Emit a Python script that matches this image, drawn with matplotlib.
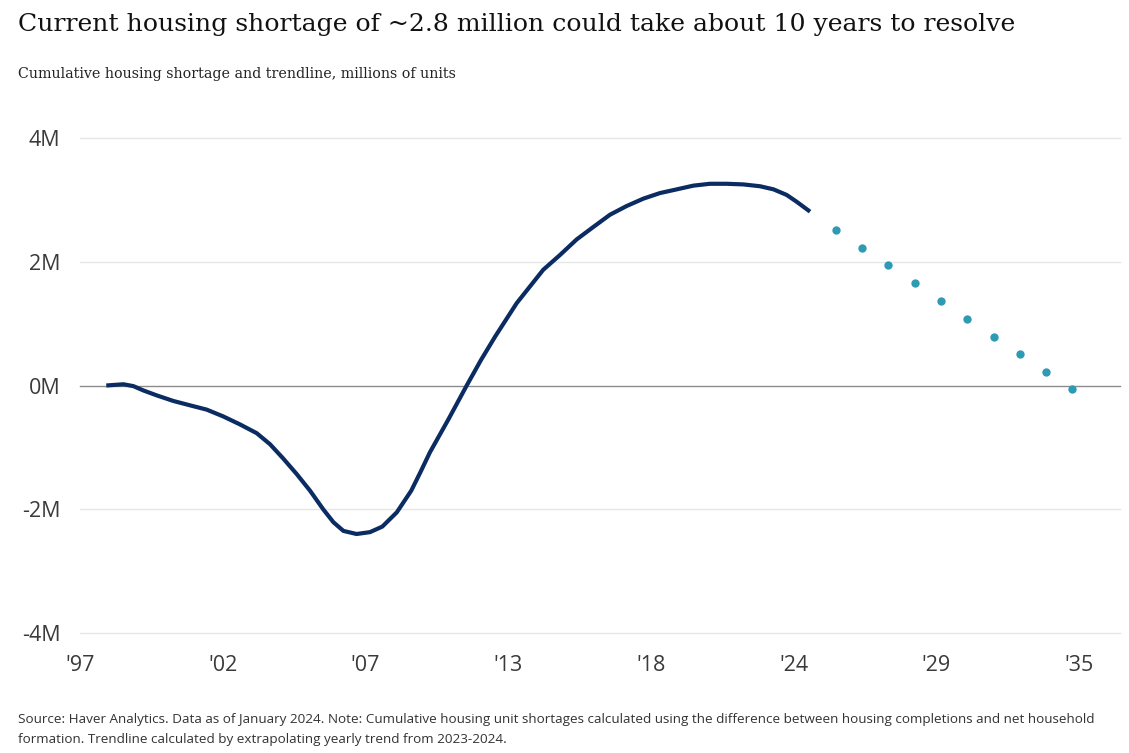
import matplotlib
matplotlib.use("Agg")
import matplotlib.pyplot as plt
import numpy as np

# cumulative shortage, millions of units
years = [1998.0, 1998.65, 1999.03, 1999.41, 1999.92, 2000.55, 2001.18, 2001.82,
         2002.45, 2003.09, 2003.72, 2004.23, 2004.73, 2005.24, 2005.75, 2006.25,
         2006.64, 2007.02, 2007.52, 2008.03, 2008.5, 2009.05, 2009.6, 2009.95,
         2010.31, 2011.01, 2011.71, 2012.25, 2012.79, 2013.61, 2014.62, 2015.26,
         2015.89, 2016.52, 2017.16, 2017.79, 2018.43, 2019.06, 2019.7, 2020.33,
         2020.96, 2021.6, 2022.23, 2022.87, 2023.38, 2023.88, 2024.26, 2024.77]
shortage = [0.00, 0.02, -0.01, -0.08, -0.16, -0.25, -0.32, -0.39,
            -0.50, -0.63, -0.77, -0.95, -1.18, -1.43, -1.70, -2.00,
            -2.21, -2.35, -2.40, -2.37, -2.28, -2.05, -1.70, -1.40,
            -1.08, -0.55, 0.00, 0.41, 0.79, 1.33, 1.87, 2.11,
            2.36, 2.56, 2.76, 2.90, 3.02, 3.11, 3.17, 3.23,
            3.26, 3.26, 3.25, 3.22, 3.17, 3.08, 2.97, 2.81]

trend_years = [2025.75, 2026.75, 2027.75, 2028.75, 2029.75,
               2030.75, 2031.75, 2032.75, 2033.75, 2034.75]
trend = [2.51, 2.22, 1.94, 1.65, 1.37, 1.08, 0.79, 0.51, 0.22, -0.06]

ytick_vals = [-4, -2, 0, 2, 4]
ytick_labels = ['-4M', '-2M', '0M', '2M', '4M']
xtick_labels = ["'97", "'02", "'07", "'13", "'18", "'24", "'29", "'35"]

W, H = 1129, 753
fig = plt.figure(figsize=(W/100, H/100), dpi=100)
ax = fig.add_axes([80/W, 1-633/H, (1120-80)/W, (633-138)/H])

ax.plot(years, shortage, color='#0b2c62', lw=3.0, solid_capstyle='butt',
        solid_joinstyle='round', zorder=3)
ax.plot(trend_years, trend, 'o', color='#2e9bb5', ms=6, mew=0, zorder=3)

ax.set_xlim(1997, 2036.56)
ax.set_ylim(-4, 4)

ax.set_yticks(ytick_vals)
ax.set_yticklabels(ytick_labels)
xt = np.linspace(1997, 2035, len(xtick_labels))
ax.set_xticks(xt)
ax.set_xticklabels(xtick_labels)

for v in ytick_vals:
    if v == 0:
        ax.axhline(v, color='#8c8c8c', lw=1.0, zorder=2, clip_on=False)
    else:
        ax.axhline(v, color='#e6e6e6', lw=1.0, zorder=1, clip_on=False)

for s in ax.spines.values():
    s.set_visible(False)
ax.tick_params(length=0, labelsize=15.5, colors='#3a3a3a', pad=0)
ax.tick_params(axis='y', pad=14)
ax.tick_params(axis='x', pad=16)
for lab in ax.get_yticklabels() + ax.get_xticklabels():
    lab.set_family('Open Sans')

fig.text(18/W, 1-25/H, 'Current housing shortage of ~2.8 million could take about 10 years to resolve',
         family='DejaVu Serif', fontsize=18.1, color='#111111', va='center', ha='left')
fig.text(18/W, 1-74/H, 'Cumulative housing shortage and trendline, millions of units',
         family='DejaVu Serif', fontsize=10.25, color='#222222', va='center', ha='left')
fig.text(18/W, 1-719/H,
         'Source: Haver Analytics. Data as of January 2024. Note: Cumulative housing unit shortages calculated using the difference between housing completions and net household',
         family='Open Sans', fontsize=9.7, color='#333333', va='center', ha='left')
fig.text(18/W, 1-740/H,
         'formation. Trendline calculated by extrapolating yearly trend from 2023-2024.',
         family='Open Sans', fontsize=9.7, color='#333333', va='center', ha='left')

fig.savefig('out.png', dpi=100, facecolor='white')
